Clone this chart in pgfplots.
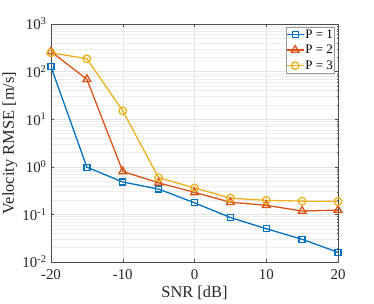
\documentclass[border=0pt]{standalone}
\usepackage{fontspec}
\setmainfont{Liberation Serif}
\usepackage{pgfplots}
\usetikzlibrary{calc}
\pgfplotsset{compat=1.18}
\definecolor{mblue}{rgb}{0,0.447,0.741}
\definecolor{morange}{rgb}{0.85,0.325,0.098}
\definecolor{myellow}{rgb}{0.929,0.694,0.125}
\begin{document}
\begin{tikzpicture}
\begin{axis}[
  scale only axis,
  width=287bp, height=238bp,
  ymode=log,
  xmin=-20, xmax=20, ymin=1e-2, ymax=1e3,
  xtick={-20,-10,0,10,20},
  xticklabels={-20,-10,0,10,20},
  ytick={1e-2,1e-1,1e0,1e1,1e2,1e3},
  yticklabels={10\textsuperscript{-2},10\textsuperscript{-1},10\textsuperscript{0},10\textsuperscript{1},10\textsuperscript{2},10\textsuperscript{3}},
  grid=both,
  major grid style={gray!22, line width=0.5pt},
  minor grid style={gray!14, line width=0.4pt},
  axis line style={black!70, line width=0.5pt},
  tick style={black!70},
  major tick length=3bp, minor tick length=1.5bp,
  tick align=inside,
  xtick pos=both, ytick pos=both,
  ticklabel style={font=\fontsize{15}{17}\selectfont, text=black!85},
  xticklabel style={yshift=-4bp},
  yticklabel style={xshift=-1bp},
  label style={font=\fontsize{16.5}{19}\selectfont, text=black!85},
  xlabel={SNR [dB]},
  ylabel={Velocity RMSE [m/s]},
  xlabel style={yshift=0bp},
  ylabel style={yshift=-2bp},
  legend style={at={(rel axis cs:0.986,0.988)}, anchor=north east, draw=black!40, fill=white, font=\fontsize{13}{15}\selectfont, inner xsep=0pt, inner ysep=1.5pt, nodes={inner sep=1pt}, row sep=3.5pt, text=black},
  legend cell align=left,
  every axis plot/.append style={line width=1.3pt},
]
\addplot[mblue, mark=square, mark size=3pt, mark options={solid}] coordinates {
(-20,126) (-15,0.98) (-10,0.48) (-5,0.34) (0,0.175) (5,0.086) (10,0.050) (15,0.030) (20,0.016)};
\addlegendentry{P = 1}
\addplot[morange, mark=triangle, mark size=4.5pt, mark options={solid}] coordinates {
(-20,263) (-15,69) (-10,0.80) (-5,0.46) (0,0.29) (5,0.18) (10,0.155) (15,0.118) (20,0.123)};
\addlegendentry{P = 2}
\addplot[myellow, mark=o, mark size=3.8pt, mark options={solid}] coordinates {
(-20,249) (-15,186) (-10,15) (-5,0.59) (0,0.36) (5,0.22) (10,0.197) (15,0.19) (20,0.187)};
\addlegendentry{P = 3}
\end{axis}
\pgfresetboundingbox
\useasboundingbox ($(current axis.south west)+(-51bp,-42bp)$) rectangle ($(current axis.south west)+(323bp,262bp)$);
\end{tikzpicture}
\end{document}
